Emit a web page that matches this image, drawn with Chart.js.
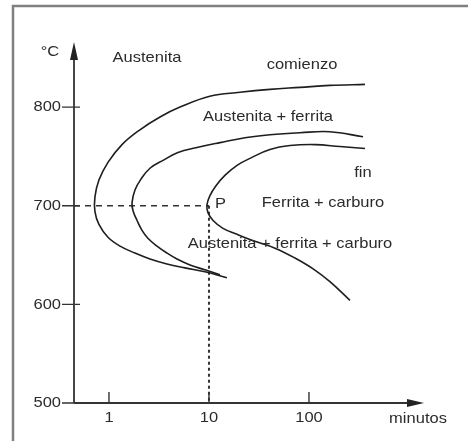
<!DOCTYPE html>
<html>
<head>
<meta charset="utf-8">
<script src="https://cdn.jsdelivr.net/npm/chart.js@4/dist/chart.umd.min.js"></script>
<style>
  body { margin: 0; background: #fff; }
  #wrap { width: 472px; height: 441px; }
</style>
</head>
<body>
<div id="wrap"><canvas id="chart" width="472" height="441"></canvas></div>
<script>
// curve "comienzo" (start of transformation), minutes / °C
const startMin  = [363, 162, 81.3, 40.7, 20.4, 10.2, 5.13, 3.24, 2.04, 1.35, 0.977, 0.794, 0.724,
                   0.724, 0.794, 0.977, 1.29, 1.82, 2.57, 3.80, 5.75, 9.12, 15.1];
const startTemp = [823, 822, 820, 818, 815, 811, 800, 790, 777, 762, 744, 726, 709,
                   694, 681, 668, 659, 652, 646, 641, 637, 633, 627];

// middle curve (ferrite done, carbide starts)
const midMin  = [347, 162, 81.3, 40.7, 22.9, 12.9, 7.59, 4.90, 3.47, 2.57, 2.09, 1.82, 1.70,
                 1.74, 1.91, 2.14, 2.45, 3.02, 3.80, 4.79, 6.46, 9.12, 12.9];
const midTemp = [770, 775, 774, 772, 769, 764, 759, 754, 746, 738, 727, 716, 703,
                 695, 685, 675, 667, 659, 652, 646, 640, 635, 630];

// curve "fin" (end of transformation)
const endMin  = [363, 204, 115, 64.6, 40.7, 26.9, 19.1, 14.5, 11.7, 10.2, 9.55,
                 9.77, 11.0, 13.8, 19.1, 28.8, 45.7, 72.4, 110, 162, 257];
const endTemp = [758, 760, 762, 761, 757, 749, 741, 731, 720, 710, 701,
                 693, 685, 677, 671, 664, 657, 647, 636, 623, 604];

// point P
const pointP = { min: 10, temp: 700 };

const xTicks = [1, 10, 100];
const xTickLabels = ['1', '10', '100'];
const yTicks = [500, 600, 700, 800];
const yTickLabels = ['500', '600', '700', '800'];

const xMin = 0.447, xMax = 1413;
const yMin = 500, yMax = 866;

const INK = '#1e1e1e';
const TEXT = '#2b2b2b';

function toPoints(xs, ys) {
    const pts = [];
    for (let i = 0; i < xs.length; i++) {
        pts.push({ x: xs[i], y: ys[i] });
    }
    return pts;
}

function curve(label, xs, ys) {
    return {
        label: label,
        data: toPoints(xs, ys),
        showLine: true,
        borderColor: INK,
        borderWidth: 1.6,
        pointRadius: 0,
        tension: 0.4,
        fill: false,
        clip: false,
    };
}

function text(ctx, s, x, y, align) {
    ctx.save();
    ctx.translate(x, y);
    ctx.scale(1.1, 1);
    ctx.textAlign = align || 'center';
    ctx.textBaseline = 'middle';
    ctx.fillText(s, 0, 0);
    ctx.restore();
}

const diagram = {
    id: 'diagram',
    beforeDraw(chart) {
        const ctx = chart.ctx;
        ctx.save();
        ctx.fillStyle = '#fff';
        ctx.fillRect(0, 0, chart.width, chart.height);
        // scanned frame (top and left only)
        ctx.strokeStyle = '#808080';
        ctx.lineWidth = 2.5;
        ctx.beginPath();
        ctx.moveTo(13, 441);
        ctx.lineTo(13, 6);
        ctx.lineTo(468, 6);
        ctx.stroke();
        ctx.restore();
    },
    afterDraw(chart) {
        const ctx = chart.ctx;
        const xs = chart.scales.x, ys = chart.scales.y;
        const a = chart.chartArea;
        const x0 = a.left, y0 = ys.getPixelForValue(yMin);

        ctx.save();
        ctx.strokeStyle = '#333';
        ctx.fillStyle = '#222';
        ctx.lineWidth = 1.8;

        // axes
        ctx.beginPath();
        ctx.moveTo(x0, y0);
        ctx.lineTo(x0, a.top + 8);
        ctx.moveTo(x0, y0);
        ctx.lineTo(a.right - 8, y0);
        ctx.stroke();

        // arrow heads
        ctx.beginPath();
        ctx.moveTo(x0, a.top);
        ctx.lineTo(x0 - 4, a.top + 18);
        ctx.lineTo(x0 + 4, a.top + 18);
        ctx.closePath();
        ctx.moveTo(a.right, y0);
        ctx.lineTo(a.right - 17, y0 - 4);
        ctx.lineTo(a.right - 17, y0 + 4);
        ctx.closePath();
        ctx.fill();

        // ticks
        ctx.lineWidth = 1.4;
        ctx.beginPath();
        yTicks.forEach(v => {
            const py = ys.getPixelForValue(v);
            ctx.moveTo(x0 - 12, py);
            ctx.lineTo(v === yMin ? x0 : x0 + 6, py);
        });
        xTicks.forEach(v => {
            const px = xs.getPixelForValue(v);
            ctx.moveTo(px, y0);
            ctx.lineTo(px, y0 - 11);
        });
        ctx.stroke();

        ctx.font = '15px "Liberation Sans", Arial, sans-serif';
        ctx.fillStyle = TEXT;
        yTicks.forEach((v, i) => {
            text(ctx, yTickLabels[i], x0 - 13, ys.getPixelForValue(v), 'right');
        });
        xTicks.forEach((v, i) => {
            text(ctx, xTickLabels[i], xs.getPixelForValue(v), y0 + 15);
        });
        text(ctx, 'minutos', 418, y0 + 16);
        text(ctx, '°C', 50, 52);

        // region labels
        text(ctx, 'Austenita', 147, 58);
        text(ctx, 'comienzo', 302, 65);
        text(ctx, 'Austenita + ferrita', 268, 117);
        text(ctx, 'fin', 363, 173);
        text(ctx, 'Ferrita + carburo', 323, 203);
        text(ctx, 'Austenita + ferrita + carburo', 290, 244);
        text(ctx, 'P', xs.getPixelForValue(pointP.min) + 6, ys.getPixelForValue(pointP.temp) - 2, 'left');
        ctx.restore();
    }
};

const config = {
    type: 'scatter',
    data: {
        datasets: [
            curve('comienzo', startMin, startTemp),
            curve('medio', midMin, midTemp),
            curve('fin', endMin, endTemp),
            {
                label: 'P horizontal',
                data: [{ x: xMin, y: pointP.temp }, { x: pointP.min, y: pointP.temp }],
                showLine: true,
                borderColor: '#333',
                borderWidth: 1.3,
                borderDash: [6, 5],
                pointRadius: 0,
            },
            {
                label: 'P vertical',
                data: [{ x: pointP.min, y: pointP.temp }, { x: pointP.min, y: yMin }],
                showLine: true,
                borderColor: '#333',
                borderWidth: 2,
                borderDash: [3, 3],
                pointRadius: 0,
            },
        ]
    },
    options: {
        responsive: false,
        animation: false,
        layout: { padding: { left: 74, right: 48, top: 42, bottom: 38 } },
        plugins: { legend: { display: false }, tooltip: { enabled: false } },
        scales: {
            x: { type: 'logarithmic', min: xMin, max: xMax, display: false },
            y: { type: 'linear', min: yMin, max: yMax, display: false },
        },
    },
    plugins: [diagram],
};

new Chart(document.getElementById('chart'), config);
</script>
</body>
</html>
